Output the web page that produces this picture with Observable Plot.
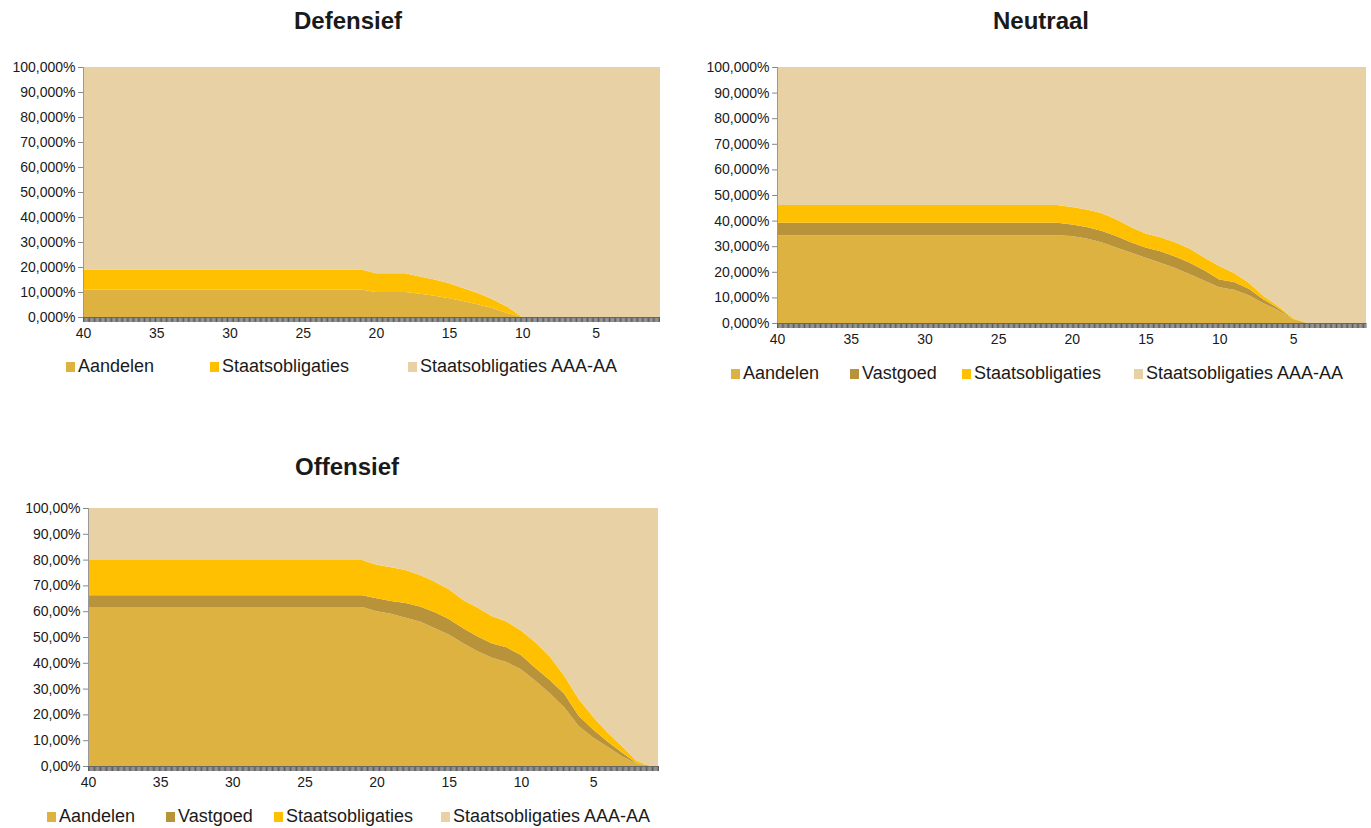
<!DOCTYPE html>
<html>
<head>
<meta charset="utf-8">
<script src="https://cdn.jsdelivr.net/npm/d3@7"></script>
<script src="https://cdn.jsdelivr.net/npm/@observablehq/plot@0.6"></script>
<style>
  html, body { margin: 0; padding: 0; background: #fff; }
  #root { position: relative; width: 1371px; height: 828px; overflow: hidden; font-family: Arial, "Liberation Sans", sans-serif; color: #1a1a1a; }
  .title { position: absolute; width: 400px; text-align: center; font-weight: bold; font-size: 24px; }
  .chart { position: absolute; }
  .item { position: absolute; display: flex; align-items: center; font-size: 18px; color: #1a1a1a; white-space: nowrap; }
  .item .sw { width: 9px; height: 10px; margin-right: 3px; display: inline-block; }
</style>
</head>
<body>
<div id="root"></div>
<script>
// Categories: years until retirement
const years = [40,39,38,37,36,35,34,33,32,31,30,29,28,27,26,25,24,23,22,21,20,19,18,17,16,15,14,13,12,11,10,9,8,7,6,5,4,3,2,1,0];
const xLabels = [40, 35, 30, 25, 20, 15, 10, 5];
const yTicks = [0, 10, 20, 30, 40, 50, 60, 70, 80, 90, 100];

const seriesNames = ["Aandelen", "Vastgoed", "Staatsobligaties", "Staatsobligaties AAA-AA"];
const seriesColors = ["#DDB240", "#B8933A", "#FEC000", "#E8D2A5"];

// Defensief
const defAandelen = [11,11,11,11,11,11,11,11,11,11,11,11,11,11,11,11,11,11,11,11,10,10,10,9.3,8.5,7.5,6.3,5,3.5,1.5,0,0,0,0,0,0,0,0,0,0,0];
const defStaats   = [8,8,8,8,8,8,8,8,8,8,8,8,8,8,8,8,8,8,8,8,7.5,7.5,7.5,6.9,6.5,6,5.2,4.5,3.5,2.5,0,0,0,0,0,0,0,0,0,0,0];
const defAAA      = [81,81,81,81,81,81,81,81,81,81,81,81,81,81,81,81,81,81,81,81,82.5,82.5,82.5,83.8,85,86.5,88.5,90.5,93,96,100,100,100,100,100,100,100,100,100,100,100];

// Neutraal
const neuAandelen = [34.3,34.3,34.3,34.3,34.3,34.3,34.3,34.3,34.3,34.3,34.3,34.3,34.3,34.3,34.3,34.3,34.3,34.3,34.3,34.3,34,33,31.5,29.5,27.5,25.5,23.5,21.5,19,16.5,14,13,10.8,7.7,5,1.5,0,0,0,0,0];
const neuVastgoed = [4.9,4.9,4.9,4.9,4.9,4.9,4.9,4.9,4.9,4.9,4.9,4.9,4.9,4.9,4.9,4.9,4.9,4.9,4.9,4.9,4.5,4.5,4.5,4.5,4,4,4.5,4.5,4.5,4,3,3,2.6,1.5,0.8,0.1,0,0,0,0,0];
const neuStaats   = [6.9,6.9,6.9,6.9,6.9,6.9,6.9,6.9,6.9,6.9,6.9,6.9,6.9,6.9,6.9,6.9,6.9,6.9,6.9,6.9,6.8,6.8,7,6.5,6,5.5,5.5,5.5,5.5,5,5.3,3.5,2.3,1.3,0.7,0.4,0,0,0,0,0];
const neuAAA      = [53.9,53.9,53.9,53.9,53.9,53.9,53.9,53.9,53.9,53.9,53.9,53.9,53.9,53.9,53.9,53.9,53.9,53.9,53.9,53.9,54.7,55.7,57,59.5,62.5,65,66.5,68.5,71,74.5,77.7,80.5,84.3,89.5,93.5,98,100,100,100,100,100];

// Offensief
const offAandelen = [61.6,61.6,61.6,61.6,61.6,61.6,61.6,61.6,61.6,61.6,61.6,61.6,61.6,61.6,61.6,61.6,61.6,61.6,61.6,61.6,60,59,57.5,56,53.5,51,47.6,44.5,42,40.3,37.5,33,28.2,22.8,15.5,11,7.5,3.8,1,0,0];
const offVastgoed = [4.6,4.6,4.6,4.6,4.6,4.6,4.6,4.6,4.6,4.6,4.6,4.6,4.6,4.6,4.6,4.6,4.6,4.6,4.6,4.6,5,5,5.7,5.8,6.2,6,5.8,5.7,5.5,5.7,5.5,5,5.1,5.2,4,3.1,2,1.4,0.2,0,0];
const offStaats   = [13.6,13.6,13.6,13.6,13.6,13.6,13.6,13.6,13.6,13.6,13.6,13.6,13.6,13.6,13.6,13.6,13.6,13.6,13.6,13.6,13,13,12.8,12.2,11.8,11.5,10.9,11.1,10.5,10,9.5,10,9.1,7,6.5,5,3.5,2.6,0.8,0,0];
const offAAA      = [20.2,20.2,20.2,20.2,20.2,20.2,20.2,20.2,20.2,20.2,20.2,20.2,20.2,20.2,20.2,20.2,20.2,20.2,20.2,20.2,22,23,24,26,28.5,31.5,35.7,38.7,42,44,47.5,52,57.6,65,74,80.9,87,92.2,98,100,100];

const root = document.getElementById("root");

function place(el, left, top) {
  el.style.left = left + "px";
  el.style.top = top + "px";
  root.appendChild(el);
}

function makeChart(cfg) {
  const rows = [];
  cfg.series.forEach((name, s) => {
    years.forEach((yr, i) => rows.push({year: yr, series: name, value: cfg.values[s][i]}));
  });
  const monthTicks = d3.range(0, 481).map(i => i / 12).filter(t => t <= 40 && t >= cfg.xEnd);

  const svg = Plot.plot({
    width: cfg.width,
    height: cfg.height,
    marginLeft: cfg.ml, marginRight: cfg.mr, marginTop: cfg.mt, marginBottom: cfg.mb,
    x: {domain: [40, cfg.xEnd], label: null},
    y: {domain: [0, 100], label: null},
    color: {domain: seriesNames, range: seriesColors},
    style: {fontFamily: "Arial, 'Liberation Sans', sans-serif", fontSize: "14px", color: "#1a1a1a", background: "transparent", overflow: "visible"},
    marks: [
      Plot.areaY(rows, {x: "year", y: "value", fill: "series", clip: true, curve: "linear"}),
      Plot.axisX({ticks: monthTicks, tickSize: 5, tickFormat: () => "", stroke: "#4a4a4a", strokeWidth: 0.9, strokeOpacity: 1, label: null}),
      Plot.axisX({ticks: xLabels, tickSize: 0, tickPadding: 11, fontSize: 14, label: null}),
      Plot.axisY({ticks: yTicks, tickSize: 5, tickPadding: 3, tickFormat: cfg.fmt, fontSize: 14, stroke: "#888", label: null}),
      Plot.ruleY([0], {stroke: "#666", strokeWidth: 1}),
      Plot.ruleX([40], {stroke: "#999", strokeWidth: 1})
    ]
  });
  const wrap = document.createElement("div");
  wrap.className = "chart";
  wrap.appendChild(svg);
  place(wrap, cfg.left, cfg.top);

  const t = document.createElement("div");
  t.className = "title";
  t.textContent = cfg.title;
  place(t, cfg.titleCx - 200, cfg.titleTop);

  cfg.series.forEach((name, k) => {
    const it = document.createElement("div");
    it.className = "item";
    const sw = document.createElement("span");
    sw.className = "sw";
    sw.style.background = seriesColors[seriesNames.indexOf(name)];
    const tx = document.createElement("span");
    tx.textContent = name;
    it.appendChild(sw);
    it.appendChild(tx);
    place(it, cfg.legendX[k], cfg.legendTop);
  });
}

const fmt3 = d => d.toFixed(3).replace(".", ",") + "%";
const fmt2 = d => d.toFixed(2).replace(".", ",") + "%";

makeChart({
  title: "Defensief",
  series: ["Aandelen", "Staatsobligaties", "Staatsobligaties AAA-AA"],
  values: [defAandelen, defStaats, defAAA],
  xEnd: 0.6, fmt: fmt3,
  left: 0, top: 55, width: 680, height: 300, ml: 83, mr: 20, mt: 12, mb: 38,
  titleCx: 348, titleTop: 7,
  legendX: [66, 210, 408], legendTop: 356
});

makeChart({
  title: "Neutraal",
  series: ["Aandelen", "Vastgoed", "Staatsobligaties", "Staatsobligaties AAA-AA"],
  values: [neuAandelen, neuVastgoed, neuStaats, neuAAA],
  xEnd: 0.05, fmt: fmt3,
  left: 690, top: 55, width: 681, height: 300, ml: 87, mr: 5, mt: 12, mb: 32,
  titleCx: 1041, titleTop: 7,
  legendX: [731, 850, 962, 1134], legendTop: 363
});

makeChart({
  title: "Offensief",
  series: ["Aandelen", "Vastgoed", "Staatsobligaties", "Staatsobligaties AAA-AA"],
  values: [offAandelen, offVastgoed, offStaats, offAAA],
  xEnd: 0.5, fmt: fmt2,
  left: 0, top: 495, width: 680, height: 300, ml: 88, mr: 22, mt: 13, mb: 29,
  titleCx: 347, titleTop: 453,
  legendX: [47, 166, 274, 441], legendTop: 806
});
</script>
</body>
</html>
